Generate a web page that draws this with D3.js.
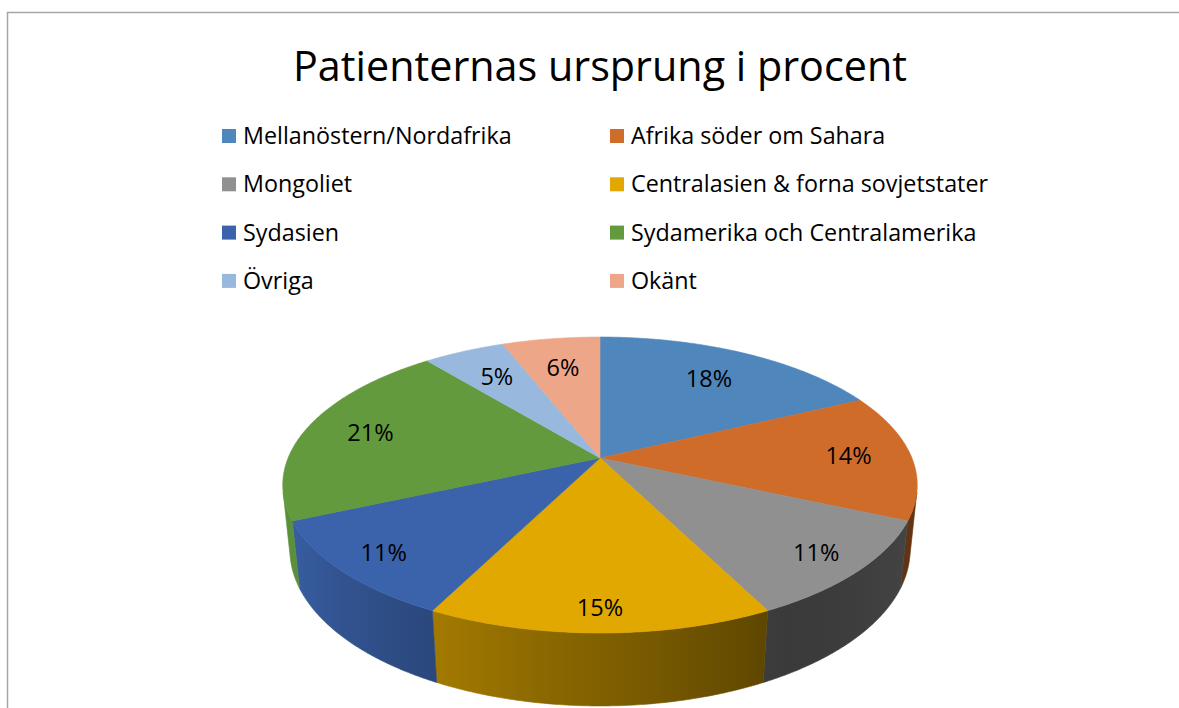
<!DOCTYPE html>
<html>
<head>
<meta charset="utf-8">
<script src="https://cdn.jsdelivr.net/npm/d3@7"></script>
<style>
  body { margin: 0; background: #fff; }
  svg { display: block; font-family: "Open Sans", Lato, sans-serif; }
</style>
</head>
<body>
<div id="chart"></div>
<script>
// Chart data
const title = 'Patienternas ursprung i procent';
const categories = [
  'Mellanöstern/Nordafrika',
  'Afrika söder om Sahara',
  'Mongoliet',
  'Centralasien & forna sovjetstater',
  'Sydasien',
  'Sydamerika och Centralamerika',
  'Övriga',
  'Okänt'
];
const values = [18, 14, 11, 15, 11, 21, 5, 6];
const sliceColors = ['#4f86bc', '#d06c2a', '#909090', '#e0a800', '#3b63ab', '#629a3d', '#98b8de', '#eea689'];

const width = 1179;
const height = 708;

const svg = d3.select('#chart')
  .append('svg')
  .attr('width', width)
  .attr('height', height);

// Chart area border (only left and top show inside the picture)
svg.append('path')
  .attr('d', `M7.5,${height} V12.5 H${width}`)
  .attr('fill', 'none')
  .attr('stroke', '#a6a6a6')
  .attr('stroke-width', 1.5);

// Title
svg.append('text')
  .attr('x', 600)
  .attr('y', 81)
  .attr('text-anchor', 'middle')
  .attr('font-size', 41.3)
  .attr('fill', '#000')
  .text(title);

const color = d3.scaleOrdinal().domain(categories).range(sliceColors);

// Legend: two columns, four rows
const legend = svg.append('g');
const items = legend.selectAll('g')
  .data(categories)
  .enter()
  .append('g')
  .attr('transform', (d, i) => `translate(${222 + (i % 2) * 388},${136 + Math.floor(i / 2) * 48.3})`);

items.append('rect')
  .attr('x', 0)
  .attr('y', -7)
  .attr('width', 14)
  .attr('height', 14)
  .attr('fill', d => color(d));

items.append('text')
  .attr('x', 21)
  .attr('dy', '0.35em')
  .attr('font-size', 23.3)
  .attr('fill', '#000')
  .text(d => d);

// 3D pie with a perspective camera
const cx = 600, cy = 458;          // screen position of the pie centre
const focal = 1519, dist = 4.87;   // camera focal length and distance (disc radius = 1)
const tilt = 27.3 * Math.PI / 180; // camera elevation
const thick = 0.235;               // disc thickness
const sinA = Math.sin(tilt), cosA = Math.cos(tilt);

function project(theta, r, yw) {
  const X = r * Math.sin(theta);
  const Z = -r * Math.cos(theta);   // toward the viewer is positive
  const ys = Z * sinA - yw * cosA;
  const D = dist - Z * cosA - yw * sinA;
  return [cx + focal * X / D, cy + focal * ys / D];
}

function arcPoints(a0, a1, r, yw) {
  const n = Math.max(2, Math.ceil(Math.abs(a1 - a0) / (Math.PI / 360)));
  return d3.range(n + 1).map(k => project(a0 + (a1 - a0) * k / n, r, yw));
}

const pie = d3.pie().sort(null).value(d => d.value);
const slices = pie(categories.map((c, i) => ({ label: c, value: values[i] })));

const line = d3.line();
const defs = svg.append('defs');
const pieG = svg.append('g');

// Side wall is visible where the cylinder faces the camera
const visLimit = Math.acos(-1 / (dist * cosA));
const visFrom = visLimit, visTo = 2 * Math.PI - visLimit;

// Wall brightness depends on the facing angle
function shade(theta) {
  const deg = theta * 180 / Math.PI;
  return deg >= 150 ? Math.min(0.93, 0.40 + (deg - 150) * 0.0058) : 0.40 + (150 - deg) * 0.002;
}
function darken(hex, k) {
  const c = d3.rgb(hex);
  return d3.rgb(c.r * k, c.g * k, c.b * k).formatHex();
}

slices.forEach((s, i) => {
  const a0 = Math.max(s.startAngle, visFrom);
  const a1 = Math.min(s.endAngle, visTo);
  if (a1 <= a0) return;
  const base = color(s.data.label);
  const xl = project(a1, 1, 0)[0];
  const xr = project(a0, 1, 0)[0];
  const grad = defs.append('linearGradient')
    .attr('id', 'wall' + i)
    .attr('gradientUnits', 'userSpaceOnUse')
    .attr('x1', xl).attr('x2', xr)
    .attr('y1', 0).attr('y2', 0);
  d3.range(13).forEach(k => {
    const t = a1 - (a1 - a0) * k / 12;
    const x = project(t, 1, 0)[0];
    grad.append('stop')
      .attr('offset', (x - xl) / (xr - xl))
      .attr('stop-color', darken(base, shade(t)));
  });
  const pts = arcPoints(a0, a1, 1, 0).concat(arcPoints(a1, a0, 1, -thick));
  pieG.append('path')
    .attr('d', line(pts) + 'Z')
    .attr('fill', `url(#wall${i})`)
    .attr('stroke', `url(#wall${i})`)
    .attr('stroke-width', 0.6);
});

// Top faces
pieG.selectAll('path.top')
  .data(slices)
  .enter()
  .append('path')
  .attr('class', 'top')
  .attr('d', d => line([[cx, cy]].concat(arcPoints(d.startAngle, d.endAngle, 1, 0))) + 'Z')
  .attr('fill', d => color(d.data.label))
  .attr('stroke', d => color(d.data.label))
  .attr('stroke-width', 0.6);

// Data labels
pieG.selectAll('text.label')
  .data(slices)
  .enter()
  .append('text')
  .attr('class', 'label')
  .attr('transform', d => {
    const mid = (d.startAngle + d.endAngle) / 2;
    const r = 0.80 - 0.08 * Math.cos(mid);
    return `translate(${project(mid, r, 0)})`;
  })
  .attr('text-anchor', 'middle')
  .attr('dy', '0.35em')
  .attr('font-size', 23.5)
  .attr('fill', '#000')
  .text(d => d.data.value + '%');
</script>
</body>
</html>
